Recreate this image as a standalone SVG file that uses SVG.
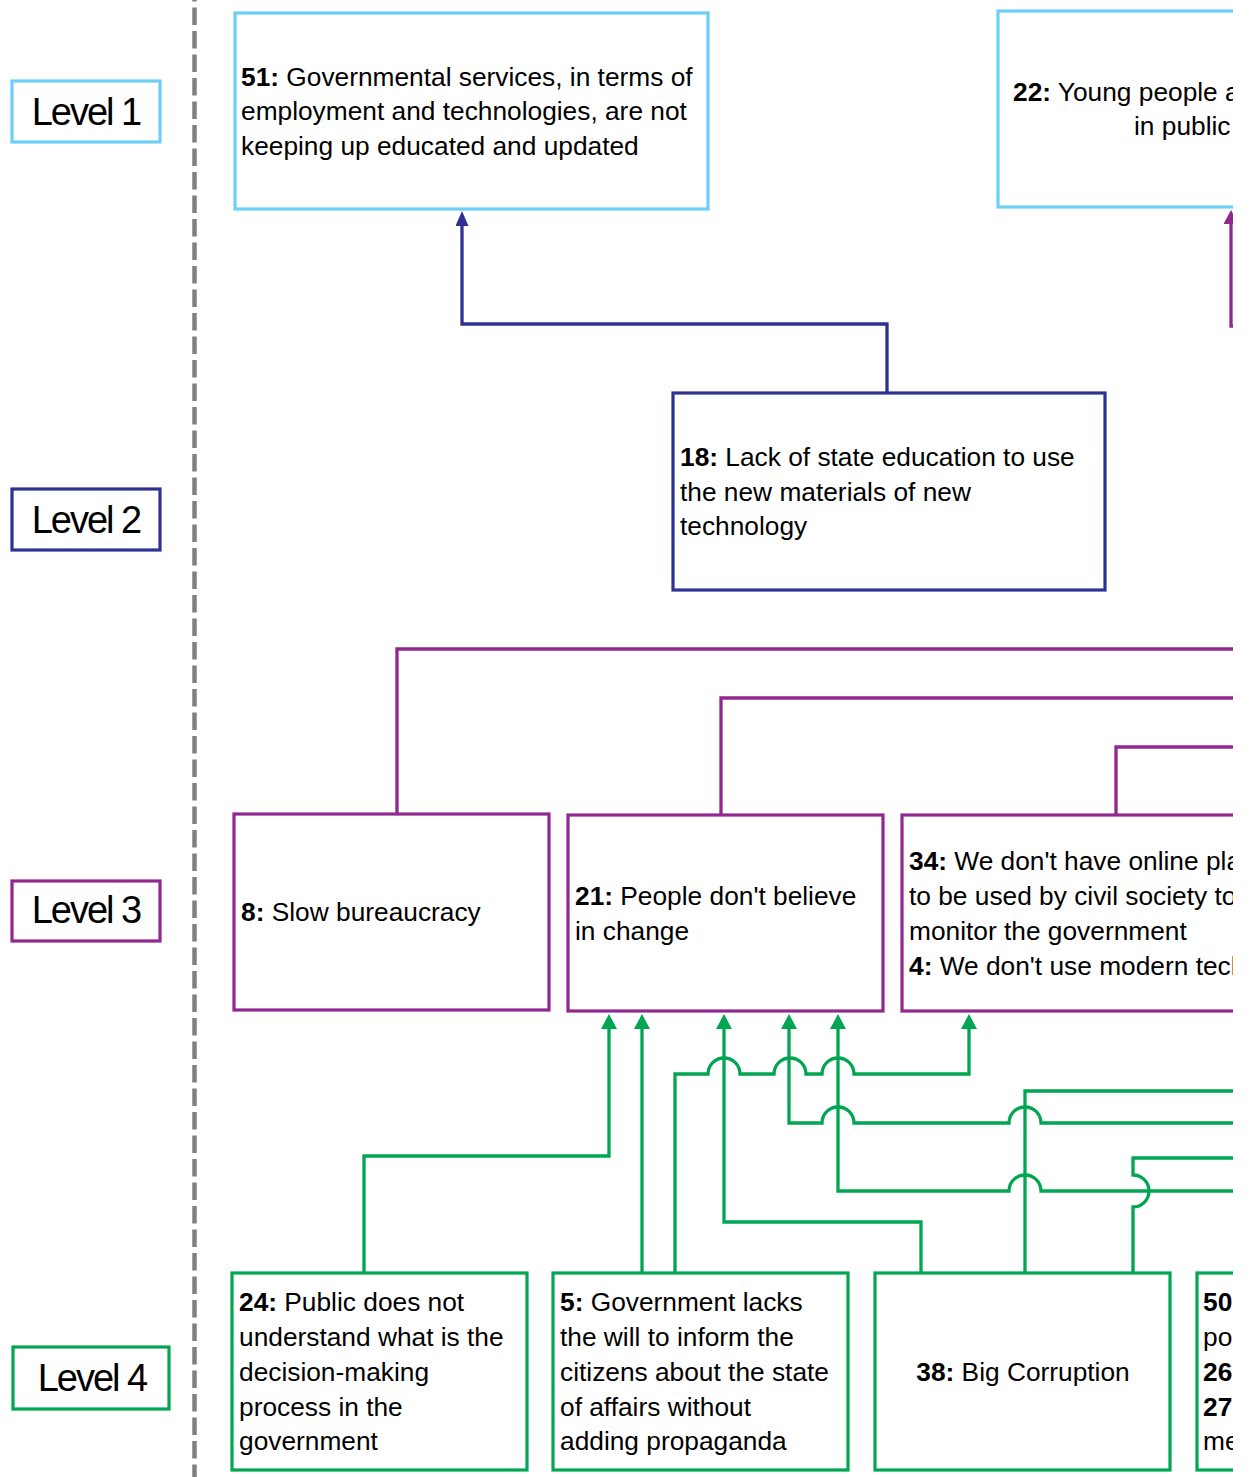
<svg xmlns="http://www.w3.org/2000/svg" width="1251" height="1477" viewBox="0 0 1251 1477">
  <style>
    text { font-family: "Liberation Sans", Arial, sans-serif; fill: #000; }
    .t { font-size: 26.3px; }
    .lvl { font-size: 38px; letter-spacing: -2px; text-anchor: middle; }
    .b { font-weight: bold; }
    .box { fill: #fff; stroke-width: 3.2; }
    .l1 { stroke: #6DCFF6; }
    .l2 { stroke: #2E3192; }
    .l3 { stroke: #92278F; }
    .l4 { stroke: #00A651; }
    .c { fill: none; stroke-width: 3.3; stroke-linejoin: miter; }
  </style>
  <defs>
    <clipPath id="page"><rect x="0" y="0" width="1233" height="1477"/></clipPath>
    <marker id="arrowGreen" markerUnits="userSpaceOnUse" viewBox="0 0 15 16" markerWidth="15" markerHeight="16" refX="0" refY="8" orient="auto">
      <path d="M0,0 L15,8 L0,16 Z" fill="#00A651"/>
    </marker>
    <marker id="arrowBlue" markerUnits="userSpaceOnUse" viewBox="0 0 15 13" markerWidth="15" markerHeight="13" refX="0" refY="6.5" orient="auto">
      <path d="M0,0 L15,6.5 L0,13 Z" fill="#2E3192"/>
    </marker>
    <marker id="arrowPurple" markerUnits="userSpaceOnUse" viewBox="0 0 14 15" markerWidth="14" markerHeight="15" refX="0" refY="7.5" orient="auto">
      <path d="M0,0 L14,7.5 L0,15 Z" fill="#92278F"/>
    </marker>
  </defs>

  <g clip-path="url(#page)">
    <!-- level separator -->
    <line x1="194.5" y1="0" x2="194.5" y2="1477" stroke="#808080" stroke-width="4.5" stroke-dasharray="17.5 6" stroke-dashoffset="16"/>

    <!-- level labels -->
    <g id="level1">
      <rect class="box l1" x="12" y="81" width="148" height="61"/>
      <text class="lvl" x="86" y="125">Level 1</text>
    </g>
    <g id="level2">
      <rect class="box l2" x="12" y="489" width="148" height="61"/>
      <text class="lvl" x="86" y="533">Level 2</text>
    </g>
    <g id="level3">
      <rect class="box l3" x="12" y="881" width="148" height="60"/>
      <text class="lvl" x="86" y="923">Level 3</text>
    </g>
    <g id="level4">
      <rect class="box l4" x="13" y="1347" width="156" height="62"/>
      <text class="lvl" x="92" y="1391">Level 4</text>
    </g>

    <!-- connectors -->
    <g id="connectors">
      <!-- level 2 to level 1 -->
      <path class="c" stroke="#2E3192" d="M887,393 V324 H462 V226" marker-end="url(#arrowBlue)"/>
      <!-- level 3 to upper levels -->
      <path class="c" stroke="#92278F" d="M1245,326 H1231 V224" marker-end="url(#arrowPurple)"/>
      <path class="c" stroke="#92278F" d="M397,814 V649 H1245"/>
      <path class="c" stroke="#92278F" d="M721,815 V698 H1245"/>
      <path class="c" stroke="#92278F" d="M1116,815 V747 H1245"/>
      <!-- level 4 to level 3 -->
      <path class="c" stroke="#00A651" d="M364,1273 V1156 H609 V1029" marker-end="url(#arrowGreen)"/>
      <path class="c" stroke="#00A651" d="M642,1273 V1029" marker-end="url(#arrowGreen)"/>
      <path class="c" stroke="#00A651" d="M675,1273 V1074 H708 A16,16 0 0 1 740,1074 H774 A16,16 0 0 1 806,1074 H822 A16,16 0 0 1 854,1074 H969 V1029" marker-end="url(#arrowGreen)"/>
      <path class="c" stroke="#00A651" d="M921,1273 V1222 H724 V1029" marker-end="url(#arrowGreen)"/>
      <path class="c" stroke="#00A651" d="M1245,1123 H1041 A16,16 0 0 0 1009,1123 H854 A16,16 0 0 0 822,1123 H789 V1029" marker-end="url(#arrowGreen)"/>
      <path class="c" stroke="#00A651" d="M1245,1191 H1041 A16,16 0 0 0 1009,1191 H838 V1029" marker-end="url(#arrowGreen)"/>
      <path class="c" stroke="#00A651" d="M1025,1273 V1091 H1245"/>
      <path class="c" stroke="#00A651" d="M1133,1273 V1207 A16,16 0 0 0 1133,1175 V1158 H1245"/>
    </g>

    <!-- level 1 nodes -->
    <g id="node51">
      <rect class="box l1" x="235" y="13" width="473" height="196"/>
      <text class="t" x="241" y="86"><tspan class="b">51:</tspan> Governmental services, in terms of</text>
      <text class="t" x="241" y="120">employment and technologies, are not</text>
      <text class="t" x="241" y="155">keeping up educated and updated</text>
    </g>
    <g id="node22">
      <rect class="box l1" x="998" y="11" width="300" height="196"/>
      <text class="t" x="1013" y="101"><tspan class="b">22:</tspan> Young people a</text>
      <text class="t" x="1134" y="135">in public</text>
    </g>

    <!-- level 2 nodes -->
    <g id="node18">
      <rect class="box l2" x="673" y="393" width="432" height="197"/>
      <text class="t" x="680" y="466"><tspan class="b">18:</tspan> Lack of state education to use</text>
      <text class="t" x="680" y="501">the new materials of new</text>
      <text class="t" x="680" y="535">technology</text>
    </g>

    <!-- level 3 nodes -->
    <g id="node8">
      <rect class="box l3" x="234" y="814" width="315" height="196"/>
      <text class="t" x="241" y="921"><tspan class="b">8:</tspan> Slow bureaucracy</text>
    </g>
    <g id="node21">
      <rect class="box l3" x="568" y="815" width="315" height="196"/>
      <text class="t" x="575" y="905"><tspan class="b">21:</tspan> People don't believe</text>
      <text class="t" x="575" y="940">in change</text>
    </g>
    <g id="node34">
      <rect class="box l3" x="902" y="815" width="400" height="196"/>
      <text class="t" x="909" y="870"><tspan class="b">34:</tspan> We don't have online pla</text>
      <text class="t" x="909" y="905">to be used by civil society to</text>
      <text class="t" x="909" y="940">monitor the government</text>
      <text class="t" x="909" y="975"><tspan class="b">4:</tspan> We don't use modern tech</text>
    </g>

    <!-- level 4 nodes -->
    <g id="node24">
      <rect class="box l4" x="232" y="1273" width="295" height="197"/>
      <text class="t" x="239" y="1311"><tspan class="b">24:</tspan> Public does not</text>
      <text class="t" x="239" y="1346">understand what is the</text>
      <text class="t" x="239" y="1381">decision-making</text>
      <text class="t" x="239" y="1416">process in the</text>
      <text class="t" x="239" y="1450">government</text>
    </g>
    <g id="node5">
      <rect class="box l4" x="553" y="1273" width="295" height="197"/>
      <text class="t" x="560" y="1311"><tspan class="b">5:</tspan> Government lacks</text>
      <text class="t" x="560" y="1346">the will to inform the</text>
      <text class="t" x="560" y="1381">citizens about the state</text>
      <text class="t" x="560" y="1416">of affairs without</text>
      <text class="t" x="560" y="1450">adding propaganda</text>
    </g>
    <g id="node38">
      <rect class="box l4" x="875" y="1273" width="295" height="197"/>
      <text class="t" x="1023" y="1381" text-anchor="middle"><tspan class="b">38:</tspan> Big Corruption</text>
    </g>
    <g id="node50">
      <rect class="box l4" x="1197" y="1273" width="295" height="197"/>
      <text class="t" x="1203" y="1311"><tspan class="b">50</tspan></text>
      <text class="t" x="1203" y="1346">po</text>
      <text class="t" x="1203" y="1381"><tspan class="b">26</tspan></text>
      <text class="t" x="1203" y="1416"><tspan class="b">27</tspan></text>
      <text class="t" x="1203" y="1450">me</text>
    </g>
  </g>
</svg>
